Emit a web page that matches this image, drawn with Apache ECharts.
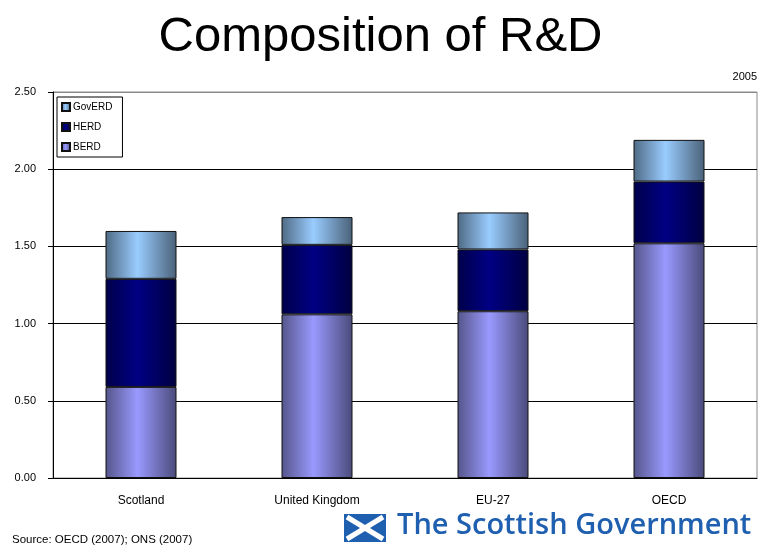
<!DOCTYPE html>
<html><head><meta charset="utf-8">
<script src="https://cdn.jsdelivr.net/npm/echarts@6/dist/echarts.min.js"></script>
<style>html,body{margin:0;padding:0;background:#fff}#c{width:761px;height:546px}</style>
</head><body><div id="c"></div>
<script>
var categories = ['Scotland', 'United Kingdom', 'EU-27', 'OECD'];
var berd = [0.59, 1.06, 1.08, 1.52];
var herd = [0.70, 0.45, 0.40, 0.40];
var goverd = [0.31, 0.18, 0.24, 0.27];
var yTicks = [0, 0.5, 1.0, 1.5, 2.0, 2.5];

function grad(edgeL, center, edgeR) {
  return new echarts.graphic.LinearGradient(0, 0, 1, 0, [
    {offset: 0, color: edgeL}, {offset: 0.45, color: center}, {offset: 1, color: edgeR}
  ]);
}
var chart = echarts.init(document.getElementById('c'), null, {renderer: 'canvas'});
var font = 'Liberation Sans, Arial, sans-serif';
chart.setOption({
  animation: false,
  backgroundColor: '#ffffff',
  title: {text: 'Composition of R&D', left: 'center', top: 8,
    textStyle: {fontFamily: font, fontSize: 49, fontWeight: 'normal', color: '#000'}},
  grid: {left: 53, right: 4, top: 92, bottom: 68, show: true, borderColor: '#8a8a8a', borderWidth: 1},
  legend: {
    orient: 'vertical', left: 57, top: 97, data: ['GovERD', 'HERD', 'BERD'], icon: 'rect',
    backgroundColor: '#fff', borderColor: '#000', borderWidth: 1, padding: [4, 10, 4, 4],
    itemWidth: 8, itemHeight: 8, itemGap: 8,
    textStyle: {fontFamily: font, fontSize: 10, color: '#000', lineHeight: 12, padding: [0, 0, 0, -2]}
  },
  xAxis: {type: 'category', data: categories,
    axisLine: {lineStyle: {color: '#000', width: 1}}, axisTick: {show: false},
    axisLabel: {fontFamily: font, fontSize: 12, color: '#000', margin: 17}},
  yAxis: {type: 'value', min: yTicks[0], max: yTicks[yTicks.length - 1], interval: 0.5,
    axisLine: {show: true, lineStyle: {color: '#000', width: 1}},
    axisTick: {show: true, inside: false, length: 5, lineStyle: {color: '#000'}},
    splitLine: {show: true, lineStyle: {color: ['#000', '#000', '#000', '#000', '#000', '#8a8a8a'], width: 1}},
    axisLabel: {fontFamily: font, fontSize: 11, color: '#000', margin: 17,
      formatter: function (v) { return v.toFixed(2); }}},
  series: [
    {name: 'BERD', type: 'bar', stack: 's', data: berd, barWidth: 71,
      itemStyle: {color: grad('#55558a', '#9999ff', '#4a4a7a'), borderColor: '#111', borderWidth: 1}},
    {name: 'HERD', type: 'bar', stack: 's', data: herd, barWidth: 71,
      itemStyle: {color: grad('#00004a', '#000084', '#000040'), borderColor: '#111', borderWidth: 1}},
    {name: 'GovERD', type: 'bar', stack: 's', data: goverd, barWidth: 71,
      itemStyle: {color: grad('#4f6a84', '#99ccff', '#4a6178'), borderColor: '#111', borderWidth: 1}}
  ],
  graphic: [
    {type: 'text', right: 4, top: 71, style: {text: '2005', font: '11px ' + font, fill: '#000'}},
    {type: 'text', left: 12, top: 534, style: {text: 'Source: OECD (2007); ONS (2007)', font: '11.5px ' + font, fill: '#000'}},
    {type: 'group', left: 344, top: 511, children: [
      {type: 'rect', shape: {x: 0, y: 0, width: 42, height: 28}, style: {fill: '#1f5fb0'}},
      {type: 'line', shape: {x1: 3, y1: 3, x2: 39, y2: 25}, style: {stroke: '#fff', lineWidth: 5}},
      {type: 'line', shape: {x1: 39, y1: 3, x2: 3, y2: 25}, style: {stroke: '#fff', lineWidth: 5}},
      {type: 'text', x: 53, y: -3, style: {text: 'The Scottish Government', font: '600 29px "Open Sans", sans-serif', fill: '#1f5fb0'}}
    ]}
  ]
});
</script></body></html>
